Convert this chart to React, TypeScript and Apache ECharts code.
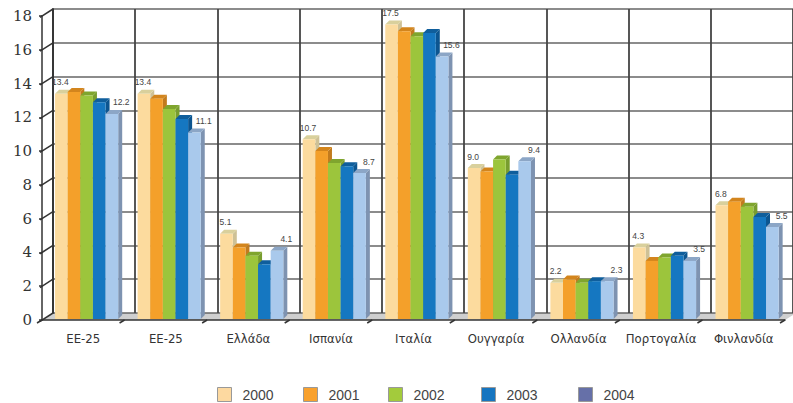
import React, { useEffect, useRef } from "react";
import * as echarts from "echarts";

// Categories (countries / EU aggregate) and yearly values
const categories = ["ΕΕ-25", "ΕΕ-25", "Ελλάδα", "Ισπανία", "Ιταλία", "Ουγγαρία", "Ολλανδία", "Πορτογαλία", "Φινλανδία"];
const years = ["2000", "2001", "2002", "2003", "2004"];

const v2000 = [13.4, 13.4, 5.1, 10.7, 17.5, 9.0, 2.2, 4.3, 6.8];
const v2001 = [13.5, 13.1, 4.3, 10.0, 17.1, 8.8, 2.4, 3.5, 7.0];
const v2002 = [13.3, 12.5, 3.8, 9.3, 16.8, 9.5, 2.2, 3.7, 6.7];
const v2003 = [12.9, 11.9, 3.3, 9.1, 17.0, 8.6, 2.3, 3.8, 6.1];
const v2004 = [12.2, 11.1, 4.1, 8.7, 15.6, 9.4, 2.3, 3.5, 5.5];

const yTicks = [0, 2, 4, 6, 8, 10, 12, 14, 16, 18];

// Face colours per year: front, top, side
const faces = [
  { front: "#FCDB9E", top: "#D9D09C", side: "#CEC196" },
  { front: "#F4A02A", top: "#D3851D", side: "#C27B1E" },
  { front: "#9CC53C", top: "#7FA52E", side: "#789D2E" },
  { front: "#1577C1", top: "#0F5E9C", side: "#0C5590" },
  { front: "#A9C9EC", top: "#8CA6C6", side: "#7E93B1" },
];
const legendColors = ["#FDD9A0", "#F8A12E", "#A3CB3C", "#1675C0", "#6670A8"];
const legendLefts = [212, 298, 383, 476, 573];

// depth of the chart box and of the bars
const WALL_DX = 11;
const WALL_DY = 7;
const BAR_DX = 4;
const BAR_DY = 4;

const FRONT = { left: 42, top: 16, width: 743, height: 304 };

export default function App() {
  const ref = useRef<HTMLDivElement>(null);

  useEffect(() => {
    document.body.style.margin = "0";
    if (!ref.current) return;
    const chart = echarts.init(ref.current, null, { renderer: "svg" });

    const seriesValues = [v2000, v2001, v2002, v2003, v2004];

    const barSeries = years.map((year, sIdx) => ({
      type: "custom",
      name: year,
      xAxisIndex: 0,
      yAxisIndex: 0,
      clip: false,
      z: 5,
      itemStyle: { color: faces[sIdx].front },
      encode: { x: 0, y: 1 },
      data: seriesValues[sIdx].map((v, i) => [i, v]),
      renderItem: (params: any, api: any) => {
        const idx = api.value(0);
        const val = api.value(1);
        const catW = api.size([1, 0])[0];
        const top = api.coord([idx, val]);
        const base = api.coord([idx, 0]);
        const barW = catW * 0.153;
        const x0 = top[0] - catW / 2 + catW * 0.158 + sIdx * barW;
        const yTop = top[1];
        const yBase = base[1] - 1;
        const f = faces[sIdx];
        const children: any[] = [
          {
            type: "polygon",
            shape: {
              points: [
                [x0 + barW, yTop],
                [x0 + barW + BAR_DX, yTop - BAR_DY],
                [x0 + barW + BAR_DX, yBase - BAR_DY],
                [x0 + barW, yBase],
              ],
            },
            style: { fill: f.side },
          },
          {
            type: "polygon",
            shape: {
              points: [
                [x0, yTop],
                [x0 + barW, yTop],
                [x0 + barW + BAR_DX, yTop - BAR_DY],
                [x0 + BAR_DX, yTop - BAR_DY],
              ],
            },
            style: { fill: f.top },
          },
          {
            type: "rect",
            shape: { x: x0, y: yTop, width: barW, height: yBase - yTop },
            style: { fill: f.front },
          },
        ];
        if (sIdx === 0 || sIdx === years.length - 1) {
          children.push({
            type: "text",
            style: {
              text: val.toFixed(1),
              x: sIdx === 0 ? x0 + barW / 2 - 1 : x0 + barW + 3,
              y: yTop - BAR_DY - 3,
              align: "center",
              verticalAlign: "bottom",
              fill: "#444",
              fontSize: 8.5,
              fontFamily: "Liberation Sans, Arial, sans-serif",
            },
          });
        }
        return { type: "group", children };
      },
    }));

    // empty series that keeps the back-wall grid alive
    const wallHolder = {
      type: "scatter",
      name: "wall",
      xAxisIndex: 1,
      yAxisIndex: 1,
      silent: true,
      symbolSize: 0,
      itemStyle: { opacity: 0 },
      data: [[0, 0]],
    };

    const legends = years.map((year, i) => ({
      left: legendLefts[i],
      top: 382,
      orient: "horizontal",
      icon: "rect",
      itemWidth: 14,
      itemHeight: 14,
      itemGap: 0,
      selectedMode: false,
      itemStyle: { borderColor: "#999", borderWidth: 1 },
      textStyle: {
        color: "#444",
        fontSize: 14,
        fontFamily: "Liberation Sans, Arial, sans-serif",
        padding: [0, 0, 0, 6],
      },
      data: [{ name: year, itemStyle: { color: legendColors[i], borderColor: "#999", borderWidth: 1 } }],
    }));

    chart.setOption({
      animation: false,
      backgroundColor: "#fff",
      grid: [
        { ...FRONT },
        { left: FRONT.left + WALL_DX, top: FRONT.top - WALL_DY, width: FRONT.width, height: FRONT.height },
      ],
      legend: legends,
      xAxis: [
        {
          type: "category",
          gridIndex: 0,
          data: categories,
          axisLine: { show: true, lineStyle: { color: "#333", width: 1.5 } },
          axisTick: { show: false },
          splitLine: { show: false },
          axisLabel: {
            color: "#333",
            fontSize: 13,
            margin: 12,
            interval: 0,
            fontFamily: "DejaVu Sans Condensed, sans-serif",
          },
        },
        {
          type: "category",
          gridIndex: 1,
          data: categories,
          axisLine: { show: false },
          axisTick: { show: false },
          axisLabel: { show: false },
          splitLine: { show: true, interval: 0, lineStyle: { color: "#444", width: 1.8 } },
        },
      ],
      yAxis: [
        {
          type: "value",
          gridIndex: 0,
          min: 0,
          max: 18,
          interval: 2,
          axisLine: { show: true, lineStyle: { color: "#333", width: 1.5 } },
          axisTick: { show: true, length: 3, lineStyle: { color: "#333", width: 1.5 } },
          splitLine: { show: false },
          axisLabel: {
            color: "#333",
            fontSize: 15,
            margin: 10,
            fontFamily: "DejaVu Serif, serif",
          },
        },
        {
          type: "value",
          gridIndex: 1,
          min: 0,
          max: 18,
          interval: 2,
          axisLine: { show: true, lineStyle: { color: "#333", width: 1.8 } },
          axisTick: { show: false },
          axisLabel: { show: false },
          splitLine: { show: true, lineStyle: { color: "#666", width: 1.6 } },
        },
      ],
      series: [wallHolder, ...barSeries],
    });

    // Floor and left-wall depth lines, placed from the axes' own pixel mapping.
    const toX = (v: number) => chart.convertToPixel({ xAxisIndex: 0 }, v) as number;
    const toY = (v: number) => chart.convertToPixel({ yAxisIndex: 0 }, v) as number;
    const catW = toX(1) - toX(0);
    const xl = toX(0) - catW / 2;
    const xr = xl + catW * categories.length;
    const yb = toY(0);

    const frame: any[] = [
      {
        type: "polygon",
        z: -1,
        silent: true,
        shape: {
          points: [
            [xl, yb],
            [xr, yb],
            [xr + WALL_DX, yb - WALL_DY],
            [xl + WALL_DX, yb - WALL_DY],
          ],
        },
        style: { fill: "#CFCFCF" },
      },
    ];
    yTicks.forEach((t) => {
      const y = toY(t);
      frame.push({
        type: "line",
        z: 2,
        silent: true,
        shape: { x1: xl - 2, y1: y + 1.3, x2: xl + WALL_DX, y2: y - WALL_DY },
        style: { stroke: "#333", lineWidth: 1.5 },
      });
    });
    for (let k = 0; k <= categories.length; k++) {
      const x = xl + k * catW;
      frame.push({
        type: "line",
        z: 2,
        silent: true,
        shape: { x1: x, y1: yb, x2: x - 5, y2: yb + 3 },
        style: { stroke: "#333", lineWidth: 1.5 },
      });
    }

    chart.setOption({ graphic: { elements: frame } });

    return () => chart.dispose();
  }, []);

  return <div ref={ref} style={{ width: 793, height: 403 }} />;
}
